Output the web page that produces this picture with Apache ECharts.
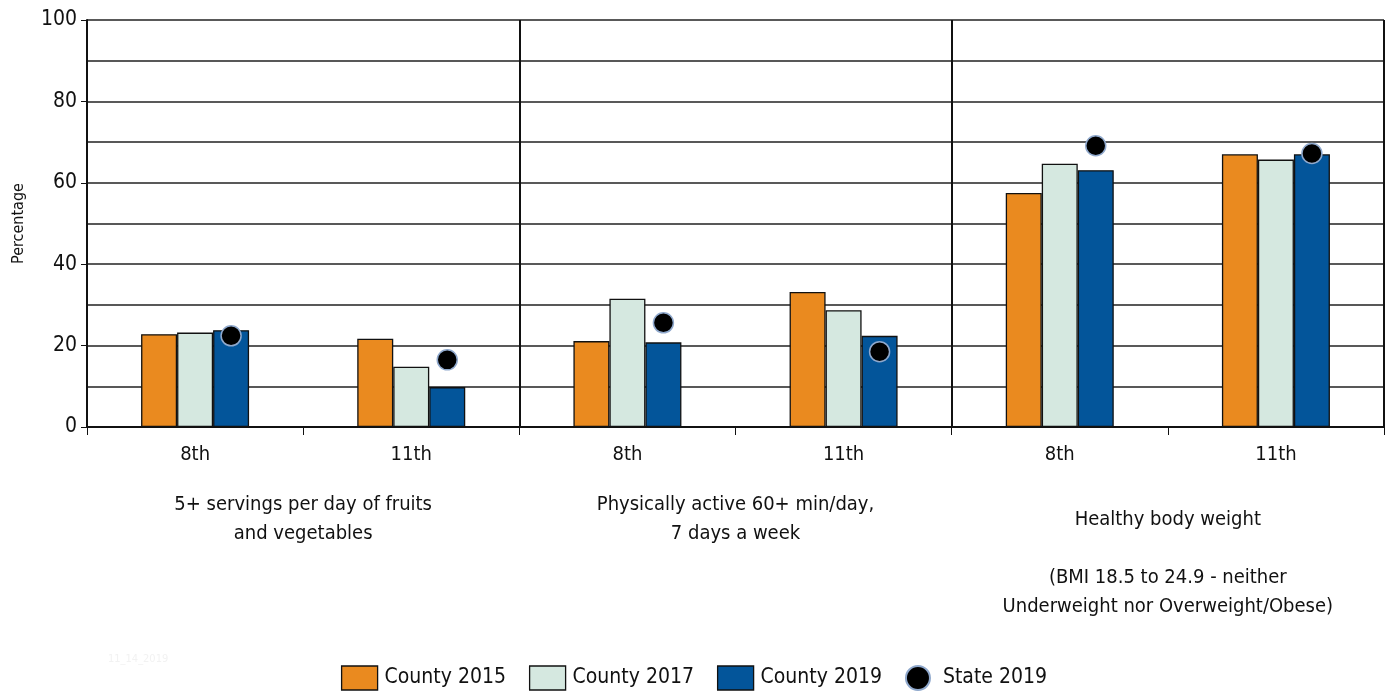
<!DOCTYPE html>
<html>
<head>
<meta charset="utf-8">
<script src="https://cdn.jsdelivr.net/npm/echarts@6/dist/echarts.min.js"></script>
<style>
  html, body { margin: 0; padding: 0; background: #fff; }
  #chart { width: 1388px; height: 692px; }
</style>
</head>
<body>
<div id="chart"></div>
<script>
var FONT = "'Liberation Sans Narrow', 'DejaVu Sans Condensed', 'Roboto', sans-serif";

// grade categories (two per indicator)
var grades = ['8th', '11th', '8th', '11th', '8th', '11th'];
// indicator labels under each pair of grades
var groupLabels = [
  '5+ servings per day of fruits\nand vegetables',
  'Physically active 60+ min/day,\n7 days a week',
  'Healthy body weight\n\n(BMI 18.5 to 24.9 - neither\nUnderweight nor Overweight/Obese)'
];
// percentages
var county2015 = [22.8, 21.7, 21.1, 33.2, 57.5, 67.0];
var county2017 = [23.2, 14.8, 31.5, 28.7, 64.7, 65.7];
var county2019 = [23.8, 9.8, 20.8, 22.4, 63.1, 67.0];
var state2019 = [22.4, 16.5, 25.6, 18.5, 69.1, 67.2];
var yTicks = [0, 20, 40, 60, 80, 100];

var myChart = echarts.init(document.getElementById('chart'));

function barSeries(name, data, color) {
  return {
    name: name,
    type: 'bar',
    data: data,
    barWidth: 36,
    barGap: '0%',
    itemStyle: { color: color, borderColor: '#111', borderWidth: 1.3 },
    z: 3
  };
}

var option = {
  animation: false,
  backgroundColor: '#fff',
  textStyle: { fontFamily: FONT },
  grid: { left: 87, right: 4, top: 20, bottom: 265, outerBoundsMode: 'none', containLabel: false },
  graphic: [{
    type: 'text',
    left: 108,
    top: 654,
    style: { text: '11_14_2019', fill: '#f2f2f2', fontSize: 11, fontFamily: FONT }
  }],
  legend: {
    bottom: 1,
    left: 'center',
    padding: 0,
    itemWidth: 36,
    itemHeight: 24,
    itemGap: 23,
    textStyle: { fontSize: 21, color: '#111', fontFamily: FONT, padding: [0, 0, 0, 2] },
    data: [
      { name: 'County 2015', icon: 'rect', itemStyle: { borderColor: '#111', borderWidth: 1.3 } },
      { name: 'County 2017', icon: 'rect', itemStyle: { borderColor: '#111', borderWidth: 1.3 } },
      { name: 'County 2019', icon: 'rect', itemStyle: { borderColor: '#111', borderWidth: 1.3 } },
      { name: 'State 2019', icon: 'circle' }
    ]
  },
  xAxis: [
    {
      type: 'category',
      data: grades,
      axisLine: { lineStyle: { color: '#111', width: 2 } },
      axisTick: { show: true, length: 8, lineStyle: { color: '#111', width: 1 } },
      axisLabel: { color: '#111', fontSize: 20, margin: 18, fontFamily: FONT },
      splitLine: { show: false }
    },
    {
      type: 'category',
      data: groupLabels,
      position: 'bottom',
      axisLine: { show: false },
      axisTick: { show: false },
      splitLine: { show: true, lineStyle: { color: '#111', width: 2 } },
      axisLabel: {
        color: '#111',
        fontSize: 20,
        lineHeight: 29,
        margin: 63,
        fontFamily: FONT,
        interval: 0,
        formatter: function (value, index) {
          return index === 2 ? '{gap| }\n' + value : value;
        },
        rich: { gap: { lineHeight: 15, fontSize: 2 } }
      }
    }
  ],
  yAxis: {
    type: 'value',
    min: yTicks[0],
    max: yTicks[yTicks.length - 1],
    interval: 20,
    name: 'Percentage',
    nameLocation: 'middle',
    nameGap: 60,
    nameTextStyle: { fontSize: 16, color: '#111', fontFamily: FONT },
    axisLine: { show: true, lineStyle: { color: '#111', width: 2 } },
    axisTick: { show: true, length: 6, lineStyle: { color: '#111' } },
    axisLabel: { color: '#111', fontSize: 21, margin: 10, fontFamily: FONT },
    splitLine: { show: true, lineStyle: { color: '#222', width: 1.5 } },
    minorTick: { show: false, splitNumber: 2 },
    minorSplitLine: { show: true, lineStyle: { color: '#222', width: 1.5 } }
  },
  series: [
    barSeries('County 2015', county2015, '#EA8A1F'),
    barSeries('County 2017', county2017, '#D5E8E0'),
    barSeries('County 2019', county2019, '#03559A'),
    {
      name: 'State 2019',
      type: 'scatter',
      data: state2019,
      symbol: 'circle',
      symbolSize: 20,
      symbolOffset: [36, 0],
      itemStyle: { color: '#000', opacity: 1, borderColor: '#8FA8CC', borderWidth: 1.5 },
      z: 5
    }
  ]
};
myChart.setOption(option);
</script>
</body>
</html>
